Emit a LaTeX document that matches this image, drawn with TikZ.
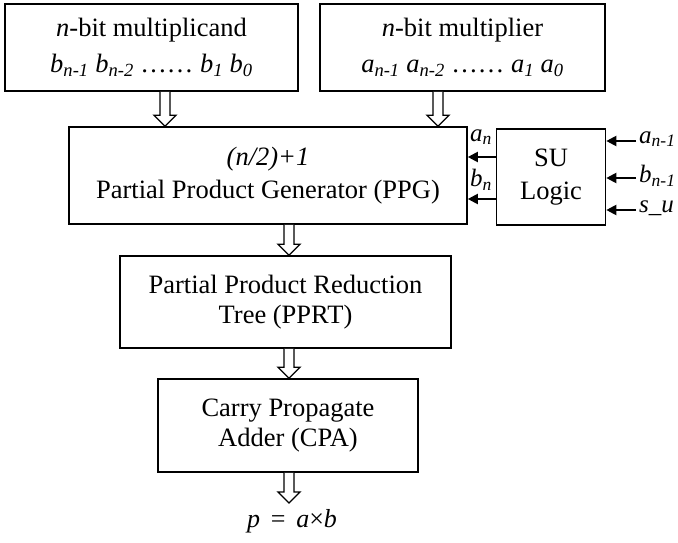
\documentclass[tikz,border=0pt]{standalone}
\usepackage{fontspec}
\setmainfont{Liberation Serif}
\usetikzlibrary{arrows.meta,calc}
\newcommand\sbx[2]{\textit{#1}\textsubscript{\textit{#2}}}
\newcommand\hollowarr[2]{\filldraw[fill=white,line width=1.3pt,line join=miter] let \p1=(#1),\p2=(#2) in
  (\x1-5pt,\y1) -- (\x1-5pt,\y2+11pt) -- (\x1-11pt,\y2+11pt) -- (\x1,\y2) -- (\x1+11pt,\y2+11pt) -- (\x1+5pt,\y2+11pt) -- (\x1+5pt,\y1);}
\begin{document}
\begin{tikzpicture}[x=1pt,y=-1pt,
  blk/.style={draw,line width=1.6pt,align=center,inner sep=0pt},
  fa/.style={font=\fontsize{26.5}{36}\selectfont},
  fb/.style={font=\fontsize{26.5}{33}\selectfont},
  fc/.style={font=\fontsize{26.5}{30}\selectfont},
  lbl/.style={inner sep=0pt,font=\fontsize{25}{28}\selectfont},
  sarr/.style={line width=2pt,-{Triangle[length=10pt,width=10pt]}}]
\useasboundingbox (0,0) rectangle (678,543);
\node[blk,fa,minimum width=293pt,minimum height=87pt] (b1) at (151.5,47.5)
  {\textit{n}-bit multiplicand\\ \sbx{b}{n-1} \sbx{b}{n-2} \ldots\ldots\ \sbx{b}{1} \sbx{b}{0}};
\node[blk,fa,minimum width=285pt,minimum height=87pt] (b2) at (462.5,47.5)
  {\textit{n}-bit multiplier\\ \sbx{a}{n-1} \sbx{a}{n-2} \ldots\ldots\ \sbx{a}{1} \sbx{a}{0}};
\node[blk,fb,minimum width=398pt,minimum height=97pt] (ppg) at (268,175.5)
  {\textit{(n/2)+1}\\ Partial Product Generator (PPG)};
\node[blk,fb,minimum width=109pt,minimum height=96pt] (su) at (551,177)
  {SU\\ Logic};
\node[blk,fc,minimum width=331pt,minimum height=92pt] (pprt) at (285.5,302)
  {Partial Product Reduction\\ Tree (PPRT)};
\node[blk,fc,minimum width=260pt,minimum height=93pt] (cpa) at (288,425.5)
  {Carry Propagate\\ Adder (CPA)};
\node[lbl,font=\fontsize{26}{30}\selectfont] (p) at (292,521) {\textit{p}\,\ =\ \,\textit{a}×\textit{b}};
% hollow arrows
\coordinate (xa) at (165,0);
\coordinate (xb) at (438,0);
\coordinate (xc) at (289,0);
\coordinate (pend) at (289,503);
\hollowarr{b1.south -| xa}{ppg.north -| xa}
\hollowarr{b2.south -| xb}{ppg.north -| xb}
\hollowarr{ppg.south -| xc}{pprt.north -| xc}
\hollowarr{pprt.south -| xc}{cpa.north -| xc}
\hollowarr{cpa.south -| xc}{pend}
% SU to PPG
\coordinate (ya) at (0,157);
\coordinate (yb) at (0,199);
\draw[sarr] (su.west |- ya) -- (ppg.east |- ya);
\draw[sarr] (su.west |- yb) -- (ppg.east |- yb);
\node[lbl] (an) at (481,137) {\sbx{a}{n}};
\node[lbl] (bn) at (481,180) {\sbx{b}{n}};
% inputs to SU
\coordinate (i1) at (636,141);
\coordinate (i2) at (636,178);
\coordinate (i3) at (636,210);
\draw[sarr] (i1) -- (su.east |- i1);
\draw[sarr] (i2) -- (su.east |- i2);
\draw[sarr] (i3) -- (su.east |- i3);
\node[lbl,anchor=west] (ia) at (639,139) {\sbx{a}{n-1}};
\node[lbl,anchor=west] (ib) at (639,176) {\sbx{b}{n-1}};
\node[lbl,anchor=west] (is) at (639,208) {\textit{s\_u}};
\end{tikzpicture}
\end{document}
